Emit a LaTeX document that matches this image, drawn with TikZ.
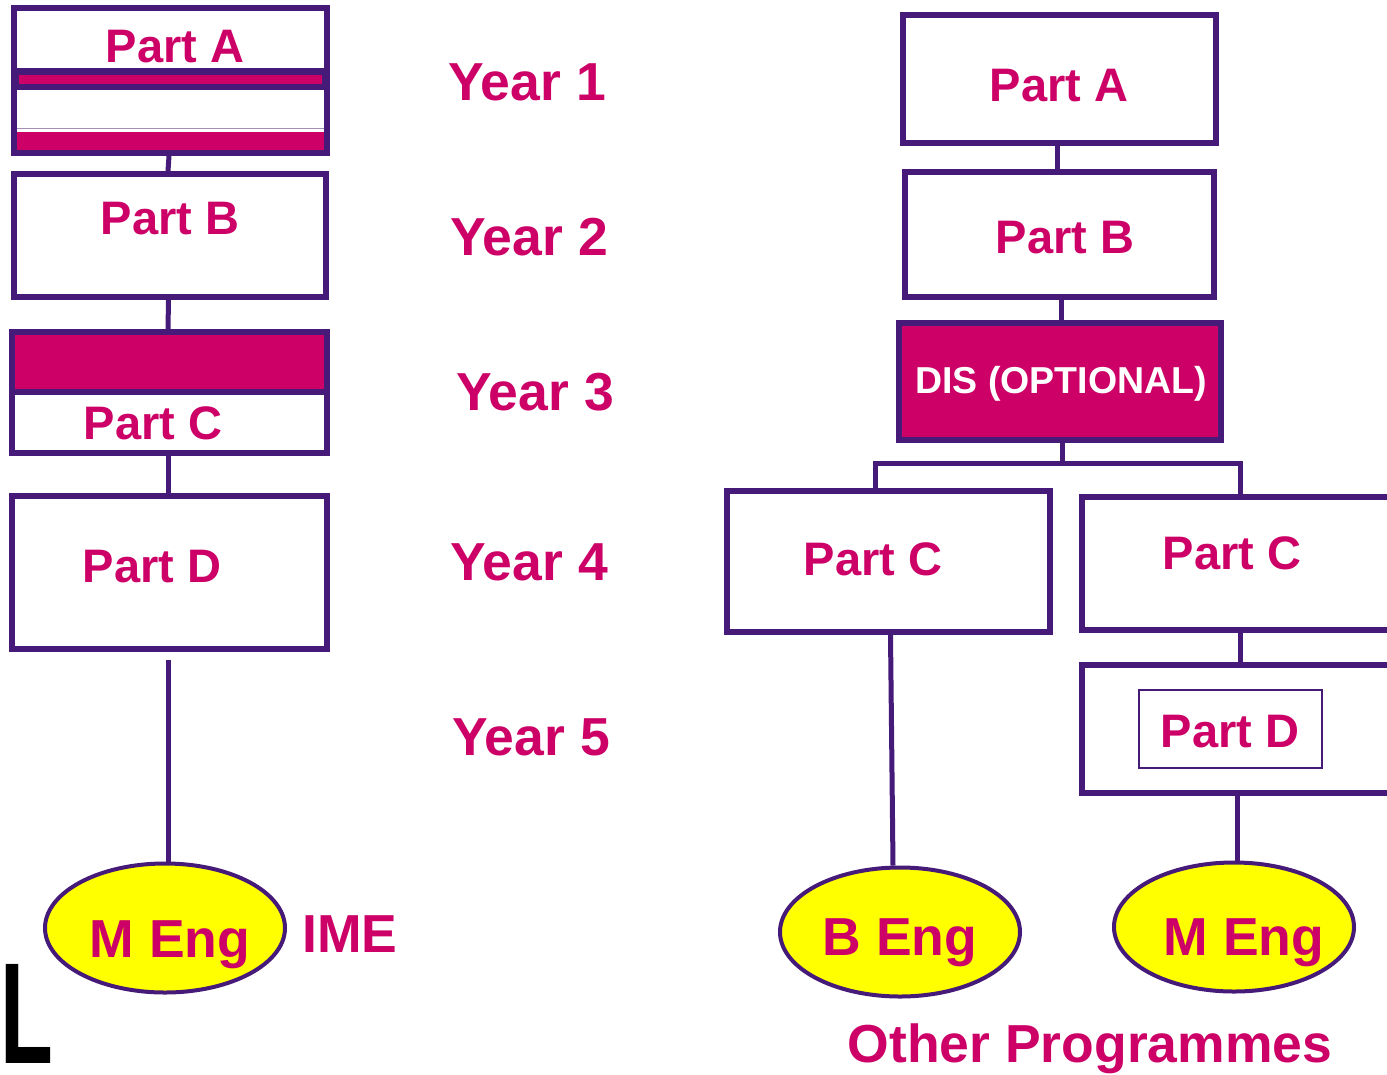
\documentclass[tikz,border=0pt]{standalone}
\usepackage{fontspec}
\setmainfont{Liberation Sans}
\usetikzlibrary{shapes.geometric,calc}
\definecolor{pur}{HTML}{461A78}
\definecolor{mag}{HTML}{CC0066}
\definecolor{yel}{HTML}{FFFF00}
\begin{document}
\begin{tikzpicture}[x=1pt,y=-1pt,
 box/.style={draw=pur,line width=6pt,rectangle,inner sep=0pt,fill=white},
 conn/.style={draw=pur,line width=5pt},
 lbl/.style={text=mag,font=\bfseries\fontsize{47}{47}\selectfont,anchor=base,inner sep=0pt},
 yr/.style={text=mag,font=\bfseries\fontsize{53.5}{53.5}\selectfont,anchor=base,inner sep=0pt},
 deg/.style={ellipse,draw=pur,line width=4pt,fill=yel,minimum width=240pt,minimum height=129pt,inner sep=0pt},
 degtxt/.style={text=mag,font=\bfseries\fontsize{53.5}{53.5}\selectfont,anchor=base,inner sep=0pt}]
\useasboundingbox[fill=white] (0,0) rectangle (1387,1074);

% ---------- left column ----------
\node[box,minimum width=313pt,minimum height=145pt] (aL) at (170.5,80.5) {};
\fill[pur] (17,68) rectangle (324,90);
\fill[mag] (19,75) rectangle (322,84);
\draw[pur!50,line width=1pt] (17,128) -- (324,128);
\fill[mag] (17,132) rectangle (324,150);
\node[lbl] (aLt) at (175,62) {Part A};

\node[box,minimum width=312pt,minimum height=123pt] (bL) at (170,235.5) {};
\node[lbl] (bLt) at (170,234) {Part B};

\node[box,minimum width=315pt,minimum height=121pt] (cL) at (169.5,392.5) {};
\fill[mag] (15,335) rectangle (324,389);
\draw[pur,line width=6pt] (12,391.5) -- (327,391.5);
\node[lbl] (cLt) at (153,439) {Part C};

\node[box,minimum width=315pt,minimum height=153pt] (dL) at (169.5,572.5) {};
\node[lbl] (dLt) at (152,582) {Part D};

\node[deg] (mL) at (165,928) {};
\node[degtxt] (mLt) at (170,957) {M Eng};
\node[degtxt,anchor=base] (ime) at (350,952) {IME};

\draw[conn] ([xshift=-1.5pt]aL.south) -- ([xshift=-2pt]bL.north);
\draw[conn] ([xshift=-1.5pt]bL.south) -- ([xshift=-1.5pt]cL.north);
\draw[conn] ([xshift=-1.5pt]cL.south) -- ([xshift=-1.5pt]dL.north);
\draw[conn] ([xshift=-1.5pt,yshift=-8pt]dL.south) -- ([xshift=3pt]mL.north);

\node[anchor=base west,font=\bfseries\fontsize{144}{144}\selectfont,xscale=0.6,inner sep=0pt] (Lt) at (0,1063) {L};

% ---------- years ----------
\node[yr] (y1) at (527,100) {Year 1};
\node[yr] (y2) at (529,255) {Year 2};
\node[yr] (y3) at (535,410) {Year 3};
\node[yr] (y4) at (529,580) {Year 4};
\node[yr] (y5) at (531,755) {Year 5};

% ---------- right column ----------
\node[box,minimum width=313pt,minimum height=128pt] (aR) at (1059.5,79) {};
\node[lbl] (aRt) at (1059,101) {Part A};

\node[box,minimum width=309pt,minimum height=125pt] (bR) at (1059.5,234.5) {};
\node[lbl] (bRt) at (1065,253) {Part B};

\node[box,fill=mag,minimum width=322pt,minimum height=117pt] (dis) at (1060,381.5) {};
\node[text=white,font=\bfseries\fontsize{37.5}{37.5}\selectfont,anchor=base,inner sep=0pt] (dist) at (1061,393) {DIS (OPTIONAL)};

\node[box,minimum width=323pt,minimum height=141pt] (c1) at (888.5,561.5) {};
\node[lbl] (c1t) at (873,575) {Part C};

\node[box,minimum width=313pt,minimum height=133pt] (c2) at (1238.5,563.5) {};
\node[lbl] (c2t) at (1232,569) {Part C};

\node[box,minimum width=313pt,minimum height=128pt] (d2) at (1238.5,729) {};
\node[draw=pur,line width=1.5pt,rectangle,minimum width=183pt,minimum height=78pt,inner sep=0pt] (d2in) at (1230.5,729) {};
\node[lbl] (d2t) at (1230,747) {Part D};

\node[deg] (beng) at (900,932) {};
\node[degtxt] (bengt) at (900,955) {B Eng};
\node[deg] (mR) at (1234,927) {};
\node[degtxt] (mRt) at (1244,955) {M Eng};

\node[degtxt] (other) at (1090,1062) {Other Programmes};

\coordinate (j) at (1062,463);
\draw[conn] ([xshift=-2pt]aR.south) -- ([xshift=-2pt]bR.north);
\draw[conn] ([xshift=1.5pt]bR.south) -- ([xshift=1pt]dis.north);
\draw[conn] ([xshift=2pt]dis.south) -- (j);
\draw[conn] (j) -| ([xshift=-13.5pt]c1.north);
\draw[conn] (j) -| ([xshift=1.5pt]c2.north);
\draw[conn] ([xshift=2pt]c1.south) -- ([xshift=-7pt]beng.north);
\draw[conn] ([xshift=2pt]c2.south) -- ([xshift=2pt]d2.north);
\draw[conn] ([xshift=-1.5pt]d2.south) -- ([xshift=3pt]mR.north);
\end{tikzpicture}
\end{document}
